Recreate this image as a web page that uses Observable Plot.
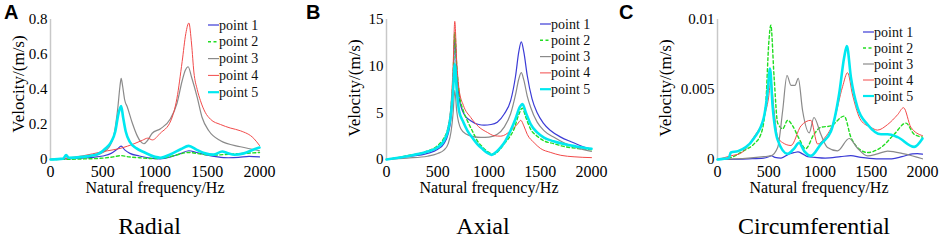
<!DOCTYPE html>
<html><head><meta charset="utf-8">
<script src="https://cdn.jsdelivr.net/npm/d3@7"></script>
<script src="https://cdn.jsdelivr.net/npm/@observablehq/plot@0.6"></script>
<style>
body{margin:0;background:#fff}
#root{position:relative;width:941px;height:240px;overflow:hidden;font-family:"Liberation Serif","Times New Roman",serif;color:#000}
.abs{position:absolute;white-space:nowrap;line-height:1}
.letter{font-family:"Liberation Sans",Arial,sans-serif;font-weight:bold;font-size:20px}
.title{font-size:24px;transform:translate(-50%,0)}
.xlabel{font-size:16px;transform:translate(-50%,0)}
.ylabel{font-size:17px;transform:translate(-50%,-50%) rotate(-90deg)}
</style></head>
<body><div id="root"></div>
<script>
// ---------- data ----------
const seriesNames = ["point 1","point 2","point 3","point 4","point 5"];
const panelTitles = ["Radial","Axial","Circumferential"];
const panelLetters = ["A","B","C"];
const xLabel = "Natural frequency/Hz";
const yLabel = "Velocity/(m/s)";
const xTicks = [0,500,1000,1500,2000];
const yTicksRadial = [0,0.2,0.4,0.6,0.8];
const yTicksAxial = [0,5,10,15];
const yTicksCirc = [0,0.005,0.01];

// Radial: [frequency Hz, velocity m/s]
const radial1 = [[0,0],[200,0.005],[400,0.012],[500,0.02],[580,0.035],[640,0.06],[676,0.076],[710,0.055],[760,0.035],[850,0.02],[950,0.008],[1050,0.004],[1150,0.015],[1250,0.035],[1324,0.05],[1400,0.04],[1500,0.025],[1600,0.015],[1700,0.01],[1800,0.012],[1900,0.018],[2000,0.015]];
const radial2 = [[0,0],[300,0.003],[500,0.008],[600,0.015],[676,0.022],[750,0.015],[850,0.01],[1000,0.005],[1100,0.01],[1200,0.025],[1320,0.04],[1450,0.03],[1550,0.025],[1700,0.03],[1850,0.035],[2000,0.04]];
const radial3 = [[0,0],[200,0.008],[400,0.02],[500,0.04],[560,0.07],[610,0.15],[645,0.3],[665,0.42],[676,0.464],[690,0.42],[710,0.34],[735,0.3],[782,0.21],[830,0.135],[861,0.103],[893,0.09],[930,0.11],[973,0.15],[1053,0.176],[1148,0.233],[1210,0.32],[1260,0.45],[1290,0.51],[1317,0.53],[1350,0.47],[1404,0.355],[1451,0.24],[1515,0.164],[1627,0.107],[1818,0.073],[2000,0.05]];
const radial4 = [[0,0],[150,0.008],[300,0.02],[500,0.045],[676,0.065],[800,0.09],[880,0.11],[930,0.122],[975,0.112],[1050,0.15],[1150,0.22],[1210,0.35],[1260,0.56],[1295,0.72],[1324,0.78],[1350,0.66],[1372,0.5],[1404,0.4],[1435,0.336],[1480,0.27],[1531,0.23],[1627,0.2],[1720,0.18],[1818,0.164],[1946,0.12],[2000,0.08]];
const radial5 = [[0,0],[120,0.005],[150,0.025],[175,0.01],[300,0.015],[450,0.03],[520,0.06],[580,0.1],[620,0.16],[650,0.26],[676,0.305],[695,0.24],[720,0.16],[760,0.1],[820,0.065],[900,0.04],[1000,0.015],[1050,0.01],[1150,0.03],[1250,0.06],[1322,0.078],[1400,0.055],[1480,0.035],[1560,0.028],[1643,0.046],[1700,0.035],[1760,0.027],[1850,0.035],[1950,0.058],[2000,0.068]];

// Axial
const axial1 = [[0,0],[200,0.3],[400,0.65],[500,1.1],[560,1.7],[600,2.7],[630,4.5],[650,8],[666,13.2],[685,9.5],[710,6.5],[760,4.8],[821,4.15],[900,3.75],[952,3.69],[1020,3.75],[1081,4.0],[1150,4.9],[1211,6.3],[1260,9],[1290,11.5],[1315,12.6],[1340,11.5],[1373,9.0],[1420,6.5],[1470,5.0],[1530,3.9],[1600,3.1],[1700,2.4],[1800,1.9],[1900,1.45],[2000,1.1]];
const axial2 = [[0,0],[200,0.4],[400,0.9],[500,1.5],[560,2.3],[600,3.4],[630,5.5],[650,9],[666,13.6],[685,10],[708,7.2],[750,5.2],[789,4.15],[840,3.0],[886,2.0],[940,1.3],[984,0.86],[1049,0.57],[1100,1.0],[1146,1.65],[1200,2.4],[1244,3.25],[1290,4.8],[1325,5.5],[1360,4.5],[1406,3.25],[1470,2.5],[1536,2.0],[1630,1.7],[1730,1.4],[1850,1.2],[2000,1.05]];
const axial3 = [[0,0],[200,0.15],[400,0.35],[500,0.64],[560,1.0],[600,1.65],[630,3.0],[650,5],[666,7.4],[685,5.2],[725,3.3],[780,2.7],[850,2.45],[920,2.36],[1000,2.4],[1081,2.7],[1150,3.5],[1211,4.9],[1260,7.0],[1290,8.6],[1315,9.3],[1340,8.5],[1373,6.8],[1406,5.6],[1470,4.0],[1536,3.1],[1630,2.4],[1730,1.8],[1850,1.3],[2000,0.86]];
const axial4 = [[0,0],[200,0.35],[400,0.85],[500,1.3],[560,2.0],[600,3.4],[630,6],[650,10],[666,14.8],[685,10.5],[708,7.5],[750,5.8],[822,4.5],[900,3.5],[984,2.9],[1050,2.55],[1115,2.5],[1213,3.1],[1278,3.8],[1310,4.2],[1340,3.6],[1373,2.7],[1440,1.8],[1500,1.2],[1603,0.75],[1700,0.45],[1830,0.29],[2000,0.2]];
const axial5 = [[0,0],[200,0.35],[400,0.85],[500,1.3],[560,2.0],[600,3.1],[630,5],[650,7.5],[666,10.2],[685,7.5],[708,5.2],[750,4.0],[789,3.1],[840,2.3],[886,1.65],[940,1.1],[984,0.7],[1025,0.5],[1070,0.8],[1114,1.3],[1160,2.0],[1211,3.1],[1260,4.4],[1300,5.6],[1327,5.95],[1360,5.0],[1406,3.8],[1470,2.9],[1536,2.35],[1630,1.95],[1730,1.65],[1850,1.4],[2000,1.15]];

// Circumferential
const circ1 = [[0,0],[300,0.00005],[450,0.0001],[500,0.0002],[525,0.00028],[560,0.00015],[620,0.0001],[700,0.0004],[752,0.0005],[785,0.00055],[830,0.0004],[880,0.0002],[950,0.00015],[1050,0.0001],[1200,0.0002],[1300,0.00028],[1400,0.00015],[1550,0.00005],[1700,0.00005],[1800,0.0002],[1900,0.0004],[1950,0.00042],[2000,0.00038]];
const circ2 = [[0,0],[130,0.00014],[250,0.0006],[354,0.0011],[423,0.0018],[471,0.004],[500,0.0083],[520,0.0096],[552,0.0059],[587,0.0026],[636,0.0022],[684,0.0028],[733,0.0024],[795,0.0015],[860,0.00077],[941,0.0018],[1008,0.0023],[1106,0.0024],[1236,0.0031],[1301,0.0016],[1366,0.00086],[1464,0.0005],[1595,0.00086],[1724,0.0018],[1838,0.0026],[1919,0.0018],[2000,0.0016]];
const circ3 = [[0,0],[300,0.0001],[450,0.0002],[520,0.00026],[587,0.00086],[636,0.0035],[678,0.006],[717,0.0053],[756,0.0053],[788,0.0058],[830,0.0035],[895,0.0019],[941,0.003],[1008,0.0018],[1073,0.00086],[1171,0.00062],[1285,0.0015],[1366,0.0008],[1464,0.00026],[1560,0.0004],[1660,0.0006],[1822,0.0004],[2000,0.00005]];
const circ4 = [[0,0],[130,0.00026],[227,0.00045],[354,0.0016],[452,0.003],[498,0.0044],[520,0.0056],[552,0.0035],[587,0.0016],[636,0.0012],[717,0.001],[814,0.0024],[911,0.0028],[977,0.0011],[1041,0.0015],[1138,0.0028],[1220,0.0052],[1269,0.0062],[1318,0.0046],[1399,0.0028],[1496,0.0023],[1560,0.0021],[1660,0.0025],[1757,0.0032],[1815,0.0037],[1887,0.0023],[2000,0.0017]];
const circ5 = [[0,0],[110,0.0001],[130,0.0005],[200,0.0006],[354,0.0015],[452,0.003],[490,0.0049],[512,0.0065],[538,0.0038],[587,0.0014],[684,0.0004],[749,0.0008],[795,0.0012],[846,0.0006],[911,0.00026],[1008,0.0011],[1106,0.002],[1187,0.0047],[1236,0.0073],[1262,0.0081],[1301,0.0059],[1366,0.0037],[1464,0.0025],[1595,0.0018],[1660,0.0018],[1757,0.0016],[1919,0.0009],[2000,0.0015]];

// ---------- styles ----------
const seriesStyle = [
  {stroke:"#3b3bd6", strokeWidth:1.2, dash:null},
  {stroke:"#22dd22", strokeWidth:1.4, dash:"3,2.5"},
  {stroke:"#8a8a8a", strokeWidth:1.2, dash:null},
  {stroke:"#f24a4a", strokeWidth:1.0, dash:null},
  {stroke:"#00e8f0", strokeWidth:2.6, dash:null}
];

const panels = [
  {data:[radial1,radial2,radial3,radial4,radial5], yTicks:yTicksRadial, left:0, ml:50, pw:209, mr:51,
   legend:{x:208, y:25, step:16.8}, letterX:4, titleX:149.5, xlabX:155, ylabX:18, ylabY:84},
  {data:[axial1,axial2,axial3,axial4,axial5], yTicks:yTicksAxial, left:336, ml:50, pw:205, mr:51,
   legend:{x:540, y:24, step:16.3}, letterX:306, titleX:483, xlabX:489, ylabX:354, ylabY:88},
  {data:[circ1,circ2,circ3,circ4,circ5], yTicks:yTicksCirc, left:667, ml:50, pw:205, mr:19,
   legend:{x:863, y:32, step:16}, letterX:619, titleX:814, xlabX:819, ylabX:665, ylabY:88}
];

const root = document.getElementById("root");
function addText(cls, txt, x, y) {
  const d = document.createElement("div");
  d.className = "abs " + cls;
  d.textContent = txt;
  d.style.left = x + "px";
  d.style.top = y + "px";
  root.appendChild(d);
}

panels.forEach((p, i) => {
  const marks = [
    Plot.ruleX([xTicks[0]], {stroke:"#c8c8c8", strokeWidth:1.5}),
    Plot.axisX({ticks:xTicks, tickSize:0, tickPadding:6, fontSize:16, label:null, tickFormat:d=>String(d)}),
    Plot.axisY({ticks:p.yTicks, tickSize:0, tickPadding:3, fontSize:15, label:null, tickFormat:d=>String(d)})
  ];
  p.data.forEach((arr, k) => {
    const s = seriesStyle[k];
    marks.push(Plot.line(arr, {x:d=>d[0], y:d=>d[1], stroke:s.stroke, strokeWidth:s.strokeWidth,
      strokeDasharray:s.dash || undefined, curve:"monotone-x"}));
  });
  const svg = Plot.plot({
    width: p.ml + p.pw + p.mr, height: 200,
    marginLeft: p.ml, marginRight: p.mr, marginTop: 19, marginBottom: 41,
    style: {fontFamily:'"Liberation Serif","Times New Roman",serif', background:"transparent", overflow:"visible"},
    x: {domain:[xTicks[0], xTicks[xTicks.length-1]]},
    y: {domain:[p.yTicks[0], p.yTicks[p.yTicks.length-1]]},
    marks
  });
  svg.style.position = "absolute";
  svg.style.left = p.left + "px";
  svg.style.top = "0px";
  root.appendChild(svg);

  // legend
  const lg = d3.create("svg").attr("width", 80).attr("height", 90)
    .style("position","absolute").style("left",(p.legend.x)+"px").style("top",(p.legend.y-8)+"px")
    .style("overflow","visible");
  seriesNames.forEach((name, k) => {
    const s = seriesStyle[k];
    const cy = 8 + k * p.legend.step;
    lg.append("line").attr("x1",0).attr("x2",11).attr("y1",cy).attr("y2",cy)
      .attr("stroke",s.stroke).attr("stroke-width",Math.min(s.strokeWidth,2.2))
      .attr("stroke-dasharray",s.dash);
    lg.append("text").attr("x",11).attr("y",cy+4.5).attr("font-size",14)
      .attr("font-family",'"Liberation Serif","Times New Roman",serif').attr("fill","#111").text(name);
  });
  root.appendChild(lg.node());

  addText("letter", panelLetters[i], p.letterX, 2);
  addText("title", panelTitles[i], p.titleX, 214);
  addText("xlabel", xLabel, p.xlabX, 180);
  addText("ylabel", yLabel, p.ylabX, p.ylabY);
});
</script>
</body></html>
